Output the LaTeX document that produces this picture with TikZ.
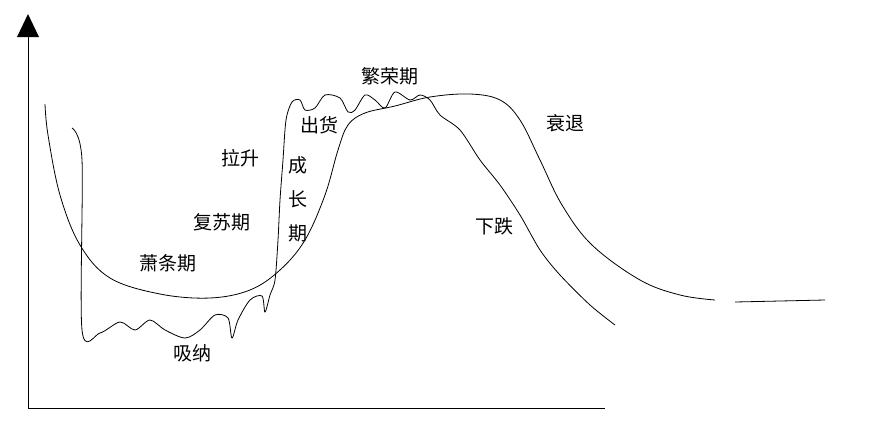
\documentclass[tikz,border=0pt]{standalone}
\usepackage{fontspec}
\newfontfamily\cjk{Noto Sans CJK SC}
\begin{document}
\begin{tikzpicture}[x=1pt,y=1pt,yscale=-1]
\tikzset{lbl/.style={font=\cjk\fontsize{19}{20}\selectfont,inner sep=0.75pt}}
\useasboundingbox (0,0) rectangle (882,442);
% axes
\coordinate (o) at (28,408);
\coordinate (top) at (28,36);
\coordinate (xend) at (605,408);
\draw[line width=1] (top) -- (o) -- (xend);
\fill (17,37) -- (28,14) -- (39,37) -- cycle;
% smooth cycle line
\draw[line width=0.8] plot[smooth,tension=0.6] coordinates {(45,104) (48,135) (60,195) (80,245) (110,278) (160,294) (210,298) (250,290) (280,270) (305,240) (325,195) (338,150) (348,125) (365,113) (395,106) (430,97) (470,94) (500,100) (520,120) (540,160) (562,205) (592,245) (640,280) (680,295) (715,300)};
\draw[line width=0.8] (735,302) -- (825,300);
% wiggly price line
\draw[line width=0.8] plot[smooth,tension=0.5] coordinates {(72,128) (82,160) (82,330) (100,333) (120,322) (135,330) (150,320) (165,330) (185,338) (200,330) (215,315) (228,318) (232,338) (238,320) (250,300) (262,296) (265,312) (270,295) (275,280) (278,240) (280,200) (283,160) (286,120) (292,102) (300,100) (305,110) (315,108) (325,95) (340,98) (348,112) (355,110) (365,95) (375,100) (385,108) (395,92) (410,100) (420,95) (430,100) (440,115) (460,130) (480,160) (500,185) (520,215) (540,250) (560,275) (590,305) (615,325)};
% labels
\node[lbl] (boom) at (390,76) {繁荣期};
\node[lbl] (decline) at (565,123) {衰退};
\node[lbl] (sell) at (319,125) {出货};
\node[lbl] (pull) at (240,158) {拉升};
\node[lbl] (grow1) at (298,165) {成};
\node[lbl] (grow2) at (298,199) {长};
\node[lbl] (grow3) at (298,233) {期};
\node[lbl] (recover) at (222,222) {复苏期};
\node[lbl] (fall) at (494,226) {下跌};
\node[lbl] (slump) at (168,263) {萧条期};
\node[lbl] (absorb) at (192,353) {吸纳};
\end{tikzpicture}
\end{document}
